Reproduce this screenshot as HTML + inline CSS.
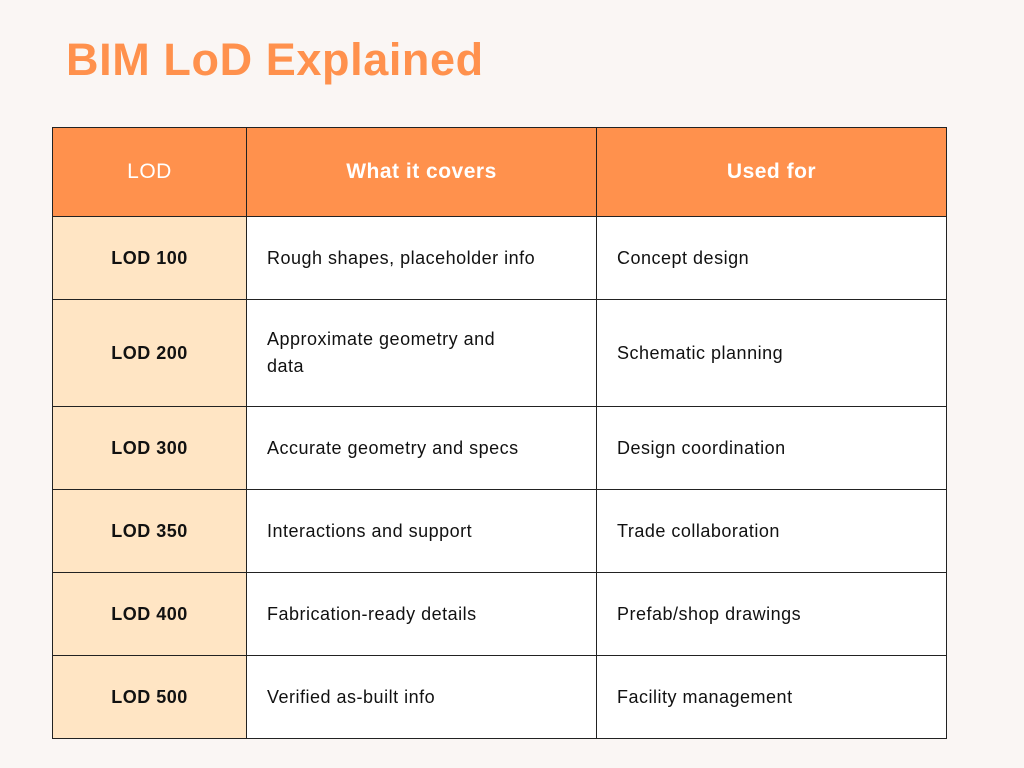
<!DOCTYPE html>
<html><head><meta charset="utf-8"><style>
body{margin:0;width:1024px;height:768px;background:#faf6f4;font-family:"Liberation Sans",sans-serif;position:relative;overflow:hidden}
h1{position:absolute;left:66px;top:32px;margin:0;font-size:45px;font-weight:bold;color:#ff914d;line-height:56px;letter-spacing:0.6px}
table{position:absolute;left:52px;top:127px;border-collapse:collapse;width:895px}
td{border:1px solid #222;font-size:18px;color:#111;padding:0 0 0 20px;background:#fff;letter-spacing:0.5px}
tr.h td{background:#ff914d;color:#fff;font-size:21px;text-align:center;padding:0;font-weight:bold;height:88px}
tr.h td:first-child{font-weight:normal}
td.l{background:#ffe5c4;font-weight:bold;text-align:center;padding:0;width:193px}
td.m{width:329px}
</style></head><body>
<h1>BIM LoD Explained</h1>
<table>
<tr class="h"><td>LOD</td><td>What it covers</td><td>Used for</td></tr>
<tr style="height:83px"><td class="l">LOD 100</td><td class="m">Rough shapes, placeholder info</td><td>Concept design</td></tr>
<tr style="height:107px"><td class="l">LOD 200</td><td class="m" style="line-height:27px">Approximate geometry and<br>data</td><td>Schematic planning</td></tr>
<tr style="height:83px"><td class="l">LOD 300</td><td class="m">Accurate geometry and specs</td><td>Design coordination</td></tr>
<tr style="height:83px"><td class="l">LOD 350</td><td class="m">Interactions and support</td><td>Trade collaboration</td></tr>
<tr style="height:83px"><td class="l">LOD 400</td><td class="m">Fabrication-ready details</td><td>Prefab/shop drawings</td></tr>
<tr style="height:83px"><td class="l">LOD 500</td><td class="m">Verified as-built info</td><td>Facility management</td></tr>
</table>
</body></html>
